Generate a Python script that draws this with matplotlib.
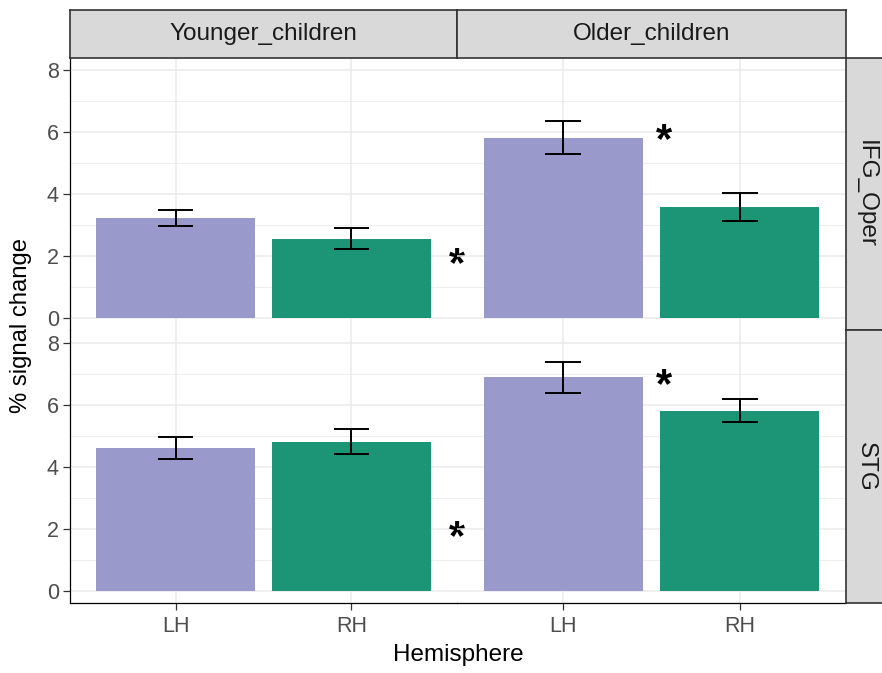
import matplotlib

matplotlib.use("Agg")
import matplotlib.pyplot as plt
import numpy as np

plt.rcParams["font.family"] = ["Liberation Sans", "DejaVu Sans"]

# facet levels
groups = ["Younger_children", "Older_children"]
regions = ["IFG_Oper", "STG"]
hemispheres = ["LH", "RH"]

# mean % signal change per region -> group -> [LH, RH]
means_ifg_younger = [3.23, 2.55]
means_ifg_older = [5.81, 3.58]
means_stg_younger = [4.60, 4.80]
means_stg_older = [6.89, 5.80]

# standard errors, same layout
se_ifg_younger = [0.26, 0.34]
se_ifg_older = [0.53, 0.45]
se_stg_younger = [0.35, 0.40]
se_stg_older = [0.50, 0.37]

# significance markers: (region, group, x, y)
star_regions = ["IFG_Oper", "IFG_Oper", "STG", "STG"]
star_groups = ["Younger_children", "Older_children", "Younger_children", "Older_children"]
star_x = [2.6, 1.57, 2.6, 1.57]
star_y = [2.0, 6.0, 2.0, 6.9]

y_ticks = [0, 2, 4, 6, 8]

MEANS = {
    ("IFG_Oper", "Younger_children"): means_ifg_younger,
    ("IFG_Oper", "Older_children"): means_ifg_older,
    ("STG", "Younger_children"): means_stg_younger,
    ("STG", "Older_children"): means_stg_older,
}
SES = {
    ("IFG_Oper", "Younger_children"): se_ifg_younger,
    ("IFG_Oper", "Older_children"): se_ifg_older,
    ("STG", "Younger_children"): se_stg_younger,
    ("STG", "Older_children"): se_stg_older,
}

FILL = ["#9999CC", "#1C9577"]
GRID = "#EBEBEB"
W, H = 882, 673


def _frac(x0, y0, x1, y1):
    # pixel box (top-left origin) -> figure fraction rect
    return [x0 / W, 1 - y1 / H, (x1 - x0) / W, (y1 - y0) / H]


def _strip(fig, rect):
    ax = fig.add_axes(rect)
    ax.set_facecolor("#D9D9D9")
    ax.set_xticks([])
    ax.set_yticks([])
    for sp in ax.spines.values():
        sp.set_color("#333333")
        sp.set_linewidth(1.2)
    return ax


def main() -> None:
    fig = plt.figure(figsize=(W / 100, H / 100), dpi=100)

    col_x = [(70, 457), (457, 846)]
    row_y = [(57.6, 330.3), (330.3, 603)]
    x = np.arange(1, len(hemispheres) + 1)

    for r, region in enumerate(regions):
        for c, group in enumerate(groups):
            x0, x1 = col_x[c]
            y0, y1 = row_y[r]
            ax = fig.add_axes(_frac(x0, y0, x1, y1))
            ax.patch.set_visible(False)
            means = np.array(MEANS[(region, group)])
            ses = np.array(SES[(region, group)])

            ax.bar(x, means, width=0.9, color=FILL, zorder=2)
            ax.vlines(x, means - ses, means + ses, color="black", lw=1.4, zorder=3)
            ax.hlines(means - ses, x - 0.1, x + 0.1, color="black", lw=1.4, zorder=3)
            ax.hlines(means + ses, x - 0.1, x + 0.1, color="black", lw=1.4, zorder=3)

            ax.set_xlim(0.4, 2.6)
            ax.set_ylim(-0.4, 8.4)
            ax.set_yticks(y_ticks)
            ax.set_yticks([1, 3, 5, 7], minor=True)
            ax.set_xticks(x)
            ax.set_xticklabels(hemispheres)
            ax.grid(True, which="major", color=GRID, lw=1.1, zorder=0)
            ax.grid(True, which="minor", axis="y", color=GRID, lw=0.6, zorder=0)
            ax.set_axisbelow(True)

            for sp in ax.spines.values():
                sp.set_visible(False)
            ax.tick_params(which="minor", length=0)
            ax.tick_params(which="major", length=5, width=0.9, color="#333333",
                           labelsize=15.5, labelcolor="#4D4D4D", pad=3)
            if c == 0:
                ax.spines["left"].set_visible(True)
                ax.spines["left"].set_linewidth(0.9)
                ax.spines["left"].set_color("black")
            else:
                ax.tick_params(axis="y", left=False, labelleft=False)
            if r == len(regions) - 1:
                ax.spines["bottom"].set_visible(True)
                ax.spines["bottom"].set_linewidth(0.9)
                ax.spines["bottom"].set_color("black")
                ax.tick_params(axis="x", pad=4.5)
            else:
                ax.tick_params(axis="x", bottom=False, labelbottom=False)

            for reg, grp, sx, sy in zip(star_regions, star_groups, star_x, star_y):
                if reg == region and grp == group:
                    ax.annotate("*", (sx, sy), xytext=(0, -14.5), textcoords="offset points",
                                ha="center", va="baseline", fontsize=30,
                                fontweight="bold", annotation_clip=False, zorder=5)

    for c, group in enumerate(groups):
        x0, x1 = col_x[c]
        _strip(fig, _frac(x0, 10, x1, 57.6))
        fig.text((x0 + x1) / 2 / W, 1 - 34 / H, group, ha="center", va="center",
                 fontsize=17.5, color="#1A1A1A")
    for r, region in enumerate(regions):
        y0, y1 = row_y[r]
        _strip(fig, _frac(846, y0, 894, y1))
        fig.text(866 / W, 1 - (y0 + y1) / 2 / H, region, ha="center", va="center",
                 rotation=-90, fontsize=17.5, color="#1A1A1A")

    fig.text(458 / W, 1 - 655 / H, "Hemisphere", ha="center", va="center",
             fontsize=17.5, color="black")
    fig.text(21 / W, 1 - 325 / H, "% signal change", ha="center", va="center",
             rotation=90, fontsize=17.2, color="black")

    fig.savefig("out.png", dpi=100)
    plt.close(fig)


if __name__ == "__main__":
    main()
